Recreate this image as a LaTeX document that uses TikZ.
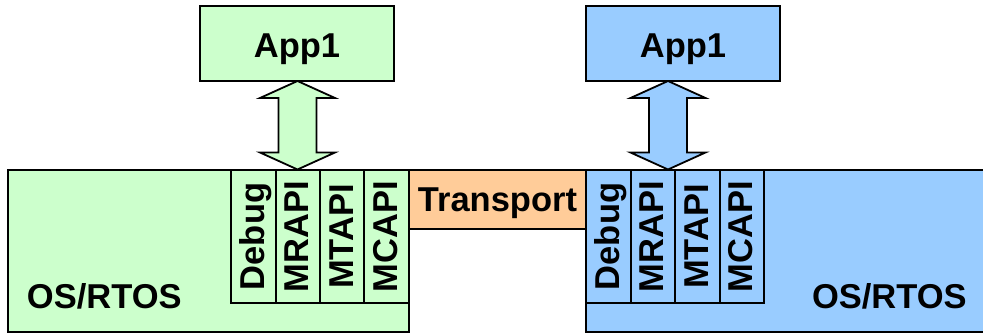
\documentclass[tikz,border=0pt]{standalone}
\usepackage{fontspec}
\setmainfont{Liberation Sans}
\usetikzlibrary{calc}
\begin{document}
\begin{tikzpicture}[x=1pt,y=-1pt,
  every node/.style={inner sep=0pt, outer sep=0pt, font=\fontsize{34.5}{41}\selectfont\bfseries},
  bx/.style={draw=black, line width=1.8pt},
  gfill/.style={fill=greenc},
  bfill/.style={fill=bluec},
  colbox/.style={bx, rotate=90, minimum width=133pt, minimum height=44.5pt, text height=21pt, text depth=0pt},
  dbl/.style={draw=black, line width=1.8pt, line join=miter}]
\definecolor{greenc}{HTML}{CCFFCC}
\definecolor{bluec}{HTML}{99CCFF}
\definecolor{orangec}{HTML}{FFCC99}
\useasboundingbox (0,0) rectangle (983,333);
\clip (0,0) rectangle (983,333);
% OS boxes
\node[bx, gfill, anchor=north west, minimum width=401pt, minimum height=162pt] (osL) at (8,170) {};
\node[bx, bfill, anchor=north west, minimum width=420pt, minimum height=162pt] (osR) at (586,170) {};
\node[anchor=base west] (osLt) at (27,308) {OS/RTOS};
\node[anchor=base west] (osRt) at (812,308) {OS/RTOS};
% Transport
\node[bx, fill=orangec, anchor=north west, minimum width=177pt, minimum height=59pt, text height=23pt, text depth=0pt] (tr) at (409,170) {Transport};
% App boxes
\node[bx, gfill, anchor=north west, minimum width=194pt, minimum height=75pt, text height=27pt, text depth=0pt] (appL) at (200,6) {App1};
\node[bx, bfill, anchor=north west, minimum width=194pt, minimum height=75pt, text height=27pt, text depth=0pt] (appR) at (586,6) {App1};
% API columns left
\node[colbox, gfill] (dL) at (253.5,236.5) {Debug};
\node[colbox, gfill] (mrL) at (298,236.5) {MRAPI};
\node[colbox, gfill] (mtL) at (342.5,236.5) {MTAPI};
\node[colbox, gfill] (mcL) at (386.5,236.5) {MCAPI};
% API columns right
\node[colbox, bfill] (dR) at (608.5,236.5) {Debug};
\node[colbox, bfill] (mrR) at (653,236.5) {MRAPI};
\node[colbox, bfill] (mtR) at (697.5,236.5) {MTAPI};
\node[colbox, bfill] (mcR) at (742,236.5) {MCAPI};
% double arrows
\coordinate (aLt) at (297.5,81);
\coordinate (aLb) at (297.5,169.5);
\coordinate (aRt) at (668,81);
\coordinate (aRb) at (668,169.5);
\draw[dbl, gfill] (aLt) -- ++(37.5,17) -- ++(-18.5,0) |- ($(aLb)+(19,-17)$) -- ++(18.5,0) -- (aLb) -- ++(-37.5,-17) -- ++(18.5,0) -- ++(0,-54.5) -- ++(-18.5,0) -- cycle;
\draw[dbl, bfill] (aRt) -- ++(37.5,17) -- ++(-18.5,0) |- ($(aRb)+(19,-17)$) -- ++(18.5,0) -- (aRb) -- ++(-37.5,-17) -- ++(18.5,0) -- ++(0,-54.5) -- ++(-18.5,0) -- cycle;
\end{tikzpicture}
\end{document}
